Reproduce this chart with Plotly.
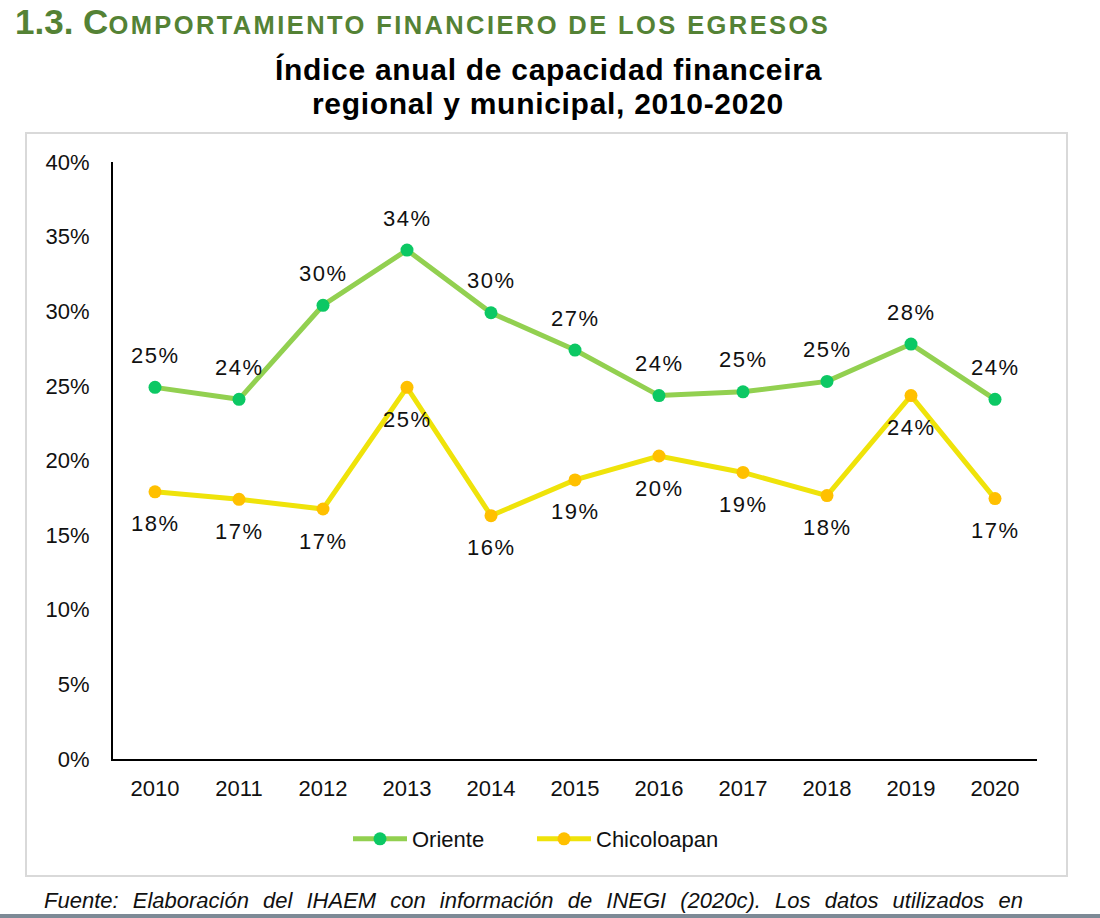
import plotly.graph_objects as go

years = ["2010", "2011", "2012", "2013", "2014", "2015", "2016", "2017", "2018", "2019", "2020"]
oriente = [24.9, 24.1, 30.4, 34.1, 29.9, 27.4, 24.35, 24.6, 25.3, 27.8, 24.1]
chicoloapan = [17.9, 17.4, 16.75, 24.9, 16.3, 18.7, 20.3, 19.2, 17.65, 24.35, 17.45]
y_ticks = [0, 5, 10, 15, 20, 25, 30, 35, 40]
y_tick_labels = [f"{t}%" for t in y_ticks]

FONT = "Liberation Sans, Arial, Helvetica, sans-serif"

# plot area pixels (for converting the frame into paper coords)
L, R, T, B = 113, 1037, 162, 759
W, H = 1100, 918
pw, ph = R - L, B - T


def px(x):
    return (x - L) / pw


def py(y):
    return (B - y) / ph


fig = go.Figure()
fig.add_trace(go.Scatter(
    x=years, y=oriente, name="Oriente", mode="lines+markers",
    line=dict(color="#92D050", width=5),
    marker=dict(color="#0CC864", size=13),
    legend="legend",
))
fig.add_trace(go.Scatter(
    x=years, y=chicoloapan, name="Chicoloapan", mode="lines+markers",
    line=dict(color="#EFE30A", width=5),
    marker=dict(color="#FFC000", size=13),
    legend="legend2",
))

annotations = []
for i, v in enumerate(oriente):
    annotations.append(dict(x=i, y=v, xref="x", yref="y", showarrow=False,
                            text=f"<span style='letter-spacing:1.5px'>{round(v)}%</span>",
                            yshift=32, font=dict(size=22, color="#111111", family=FONT)))
for i, v in enumerate(chicoloapan):
    annotations.append(dict(x=i, y=v, xref="x", yref="y", showarrow=False,
                            text=f"<span style='letter-spacing:1.5px'>{round(v)}%</span>",
                            yshift=-32, font=dict(size=22, color="#111111", family=FONT)))

# header
annotations.append(dict(
    x=px(13), y=py(21), xref="paper", yref="paper", xanchor="left", yanchor="middle",
    showarrow=False,
    text=("<b>1.3. C<span style='font-size:25.5px;letter-spacing:2.4px'>OMPORTAMIENTO FINANCIERO DE LOS EGRESOS</span></b>"),
    font=dict(size=35, color="#548235", family=FONT),
))
# title
annotations.append(dict(
    x=px(548), y=py(70), xref="paper", yref="paper", xanchor="center", yanchor="middle",
    showarrow=False,
    text="<b><span style='letter-spacing:0.7px'>Índice anual de capacidad financeira</span></b>",
    font=dict(size=30, color="#000000", family=FONT),
))
annotations.append(dict(
    x=px(548), y=py(103), xref="paper", yref="paper", xanchor="center", yanchor="middle",
    showarrow=False,
    text="<b><span style='letter-spacing:0.7px'>regional y municipal, 2010-2020</span></b>",
    font=dict(size=30, color="#000000", family=FONT),
))
# footer
annotations.append(dict(
    x=px(533), y=py(900), xref="paper", yref="paper", xanchor="center", yanchor="middle",
    showarrow=False,
    text=("<i><span style='word-spacing:8px'>Fuente: Elaboración del IHAEM con información de INEGI "
          "(2020c). Los datos utilizados en</span></i>"),
    font=dict(size=22, color="#111111", family=FONT),
))

shapes = [
    dict(type="rect", xref="paper", yref="paper", x0=px(26), x1=px(1067), y0=py(876), y1=py(133),
         line=dict(color="#D9D9D9", width=2), fillcolor="rgba(0,0,0,0)", layer="below"),
    dict(type="rect", xref="paper", yref="paper", x0=px(0), x1=px(1100), y0=py(918), y1=py(914),
         line=dict(width=0), fillcolor="#7D8A96"),
]

legend_common = dict(orientation="h", xref="container", yref="container",
                     xanchor="left", y=1 - 839 / H, yanchor="middle",
                     font=dict(size=22, family=FONT, color="#111111"),
                     itemwidth=54, tracegroupgap=0, bgcolor="rgba(0,0,0,0)")

fig.update_layout(
    width=W, height=H,
    margin=dict(l=L, r=W - R, t=T, b=H - B, pad=0),
    paper_bgcolor="white", plot_bgcolor="white",
    font=dict(family=FONT, size=22, color="#111111"),
    showlegend=True,
    legend=dict(x=(353 - 5) / W, **legend_common),
    legend2=dict(x=(537 - 5) / W, **legend_common),
    annotations=annotations,
    shapes=shapes,
    xaxis=dict(type="category", range=[-0.5, 10.5], showgrid=False, zeroline=False,
               showline=True, linecolor="#000000", linewidth=2, ticks="",
               tickfont=dict(size=22, family=FONT, color="#111111"), ticklabelstandoff=9,
               fixedrange=True),
    yaxis=dict(range=[0, 40], tickmode="array", tickvals=y_ticks, ticktext=y_tick_labels,
               showgrid=False, zeroline=False,
               showline=True, linecolor="#000000", linewidth=2, ticks="",
               tickfont=dict(size=22, family=FONT, color="#111111"), ticklabelstandoff=17,
               fixedrange=True),
)

fig.write_html("out.html", config={"displayModeBar": False})
